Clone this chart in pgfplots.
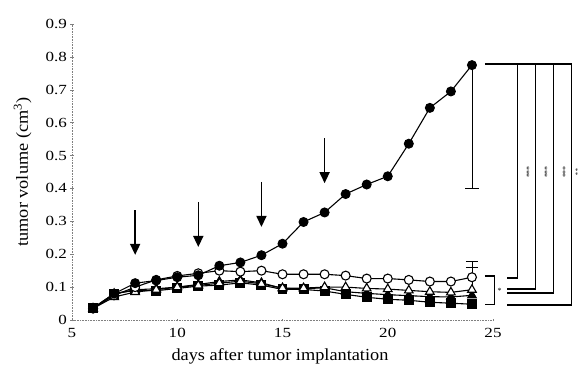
\documentclass[border=0pt]{standalone}
\usepackage{fontspec}
\setmainfont{Liberation Serif}
\newfontfamily\tickfont[FakeStretch=1.22]{Liberation Serif}
\newfontfamily\labfont[FakeStretch=1.08]{Liberation Serif}
\usepackage{pgfplots}
\pgfplotsset{compat=1.18}
\usetikzlibrary{arrows.meta}
\begin{document}
\begin{tikzpicture}
\begin{axis}[name=ax, scale only axis, width=421bp, height=296bp,
  xmin=5, xmax=25, ymin=0, ymax=0.9, clip=false,
  axis x line=bottom, axis y line=left,
  axis line style={-, densely dotted, gray, line width=0.6pt},
  xtick={5,10,15,20,25},
  ytick={0,0.1,0.2,0.3,0.4,0.5,0.6,0.7,0.8,0.9},
  yticklabels={0,0.1,0.2,0.3,0.4,0.5,0.6,0.7,0.8,0.9},
  tick style={gray, line width=0.5pt}, major tick length=3bp,
  /pgf/number format/assume math mode=true,
  tick label style={font=\tickfont\fontsize{14}{14}\selectfont},
  xticklabel style={yshift=-3bp},
  label style={font=\labfont\fontsize{17}{17}\selectfont},
  xlabel={days after tumor implantation},
  xlabel style={at={(axis description cs:0.494,0)}, anchor=north, yshift=-25bp},
  ylabel={tumor volume (cm\textsuperscript{3})},
  ylabel style={at={(axis description cs:-0.088,0.5)}, anchor=south, rotate=0},
  every axis plot/.append style={line width=1.1pt, mark size=4.5pt, mark options={solid, line width=1pt}},
]
% squares
\addplot[black, mark=square*] coordinates {
(6,0.037)(7,0.08)(8,0.09)(9,0.089)(10,0.096)(11,0.103)(12,0.106)(13,0.113)(14,0.106)(15,0.093)(16,0.093)(17,0.088)(18,0.078)(19,0.069)(20,0.063)(21,0.06)(22,0.054)(23,0.051)(24,0.048)};
% closed triangles
\addplot[black, mark=triangle*, mark size=5pt] coordinates {
(6,0.035)(7,0.08)(8,0.092)(9,0.095)(10,0.1)(11,0.108)(12,0.117)(13,0.122)(14,0.113)(15,0.096)(16,0.095)(17,0.098)(18,0.086)(19,0.081)(20,0.077)(21,0.074)(22,0.071)(23,0.07)(24,0.075)};
% open triangle error bar
\addplot[black, no marks, forget plot, line width=1.1pt,
  error bars/.cd, y dir=plus, y explicit,
  error mark options={rotate=90, mark size=6pt, line width=1.1pt}] coordinates {(24,0.092) += (0,0.068)};
% open triangles
\addplot[black, mark=triangle*, mark size=5pt, mark options={fill=white}] coordinates {
(6,0.035)(7,0.07)(8,0.085)(9,0.092)(10,0.1)(11,0.105)(12,0.112)(13,0.118)(14,0.11)(15,0.097)(16,0.097)(17,0.1)(18,0.1)(19,0.096)(20,0.094)(21,0.09)(22,0.086)(23,0.084)(24,0.092)};
% open circle error bar
\addplot[black, no marks, forget plot, line width=1.1pt,
  error bars/.cd, y dir=plus, y explicit,
  error mark options={rotate=90, mark size=6pt, line width=1.1pt}] coordinates {(24,0.13) += (0,0.047)};
% open circles
\addplot[black, mark=*, mark options={fill=white}] coordinates {
(6,0.035)(7,0.075)(8,0.1)(9,0.122)(10,0.134)(11,0.142)(12,0.15)(13,0.147)(14,0.15)(15,0.139)(16,0.139)(17,0.139)(18,0.135)(19,0.126)(20,0.126)(21,0.122)(22,0.117)(23,0.117)(24,0.13)};
% closed circle error bar
\addplot[black, no marks, forget plot, line width=1.3pt,
  error bars/.cd, y dir=minus, y explicit,
  error mark options={rotate=90, mark size=7pt, line width=1.3pt}] coordinates {(24,0.775) -= (0,0.375)};
% closed circles
\addplot[black, mark=*] coordinates {
(6,0.035)(7,0.08)(8,0.112)(9,0.12)(10,0.13)(11,0.136)(12,0.165)(13,0.175)(14,0.197)(15,0.232)(16,0.298)(17,0.327)(18,0.383)(19,0.412)(20,0.437)(21,0.536)(22,0.645)(23,0.695)(24,0.775)};
% arrows
\foreach \d/\t/\b in {8/0.334/0.198, 11/0.359/0.222, 14/0.42/0.283, 17/0.553/0.416}{
  \edef\tmp{\noexpand\draw[line width=1.6pt, -{Triangle[width=10bp,length=11bp]}] (axis cs:\d,\t) -- (axis cs:\d,\b);}\tmp
}
% brackets
\draw[line width=1.3pt] (axis cs:24.61,0.778) -- (axis cs:28.74,0.778);
\draw[line width=1.3pt] (axis cs:26.18,0.778) -- (axis cs:26.18,0.128) -- (axis cs:25.66,0.128);
\draw[line width=1.3pt] (axis cs:27.03,0.778) -- (axis cs:27.03,0.094) -- (axis cs:25.66,0.094);
\draw[line width=1.3pt] (axis cs:27.89,0.778) -- (axis cs:27.89,0.082) -- (axis cs:25.66,0.082);
\draw[line width=1.3pt] (axis cs:28.74,0.778) -- (axis cs:28.74,0.046) -- (axis cs:25.66,0.046);
\draw[line width=1.2pt] (axis cs:24.61,0.134) -- (axis cs:25.09,0.134) -- (axis cs:25.09,0.046) -- (axis cs:24.61,0.046);
\node[font=\fontsize{8}{8}\selectfont] at (axis cs:25.32,0.088) {*};
\foreach \xx/\s in {26.6/***, 27.46/***, 28.32/***}{
  \edef\tmp{\noexpand\node[rotate=-90, font=\noexpand\fontsize{8}{8}\noexpand\selectfont, inner sep=0pt] at (axis cs:\xx,0.45) {\s};}\tmp
}
\node[rotate=-90, font=\fontsize{6.5}{6.5}\selectfont, inner sep=0pt] at (axis cs:28.93,0.45) {**};
\end{axis}
\pgfresetboundingbox
\path[use as bounding box] ([xshift=-72bp,yshift=-48bp]ax.south west) rectangle ([xshift=507bp,yshift=320bp]ax.south west);
\end{tikzpicture}
\end{document}
